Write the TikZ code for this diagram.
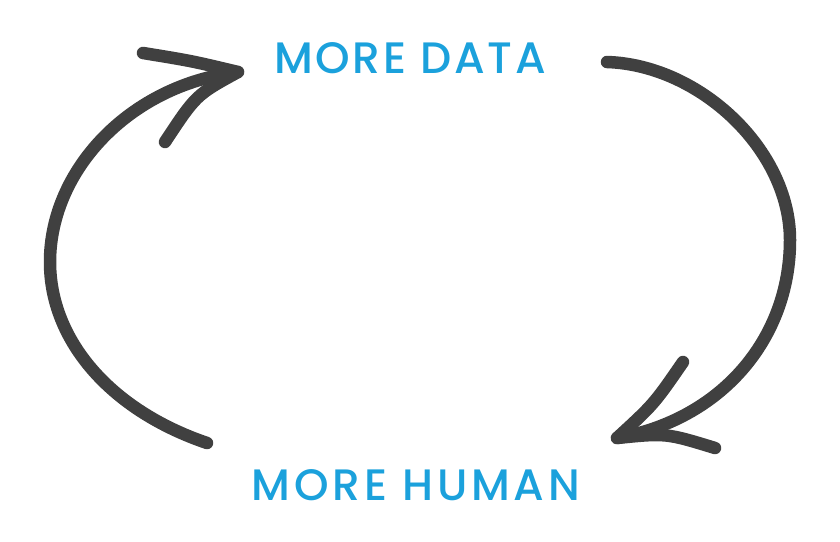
\documentclass[tikz,border=0pt]{standalone}
\usepackage{fontspec}
\setmainfont{Poppins}
\newfontfamily\labelfont{Poppins Medium}[LetterSpace=6]
\newfontfamily\labelfontwide{Poppins Medium}[LetterSpace=8.5]
\definecolor{lblue}{RGB}{27,161,220}
\definecolor{stroke}{RGB}{64,64,64}
\begin{document}
\begin{tikzpicture}[x=1pt,y=-1pt,
  label/.style={text=lblue,inner sep=0pt,font=\labelfont\fontsize{44}{44}\selectfont},
  widelabel/.style={text=lblue,inner sep=0pt,font=\labelfontwide\fontsize{44}{44}\selectfont},
  curvearrow/.style={draw=stroke,line width=12.5pt,line cap=round,line join=round}]
\useasboundingbox[fill=white] (0,0) rectangle (840,541);
\node[label] (data) at (410,58) {MORE DATA};
\node[widelabel] (human) at (416,485) {MORE HUMAN};
% left arrow
\coordinate (ls) at (207,443);
\coordinate (lt) at (238,72);
\coordinate (lb1) at (143,53);
\coordinate (lb2) at (165,142);
\draw[curvearrow] (ls) .. controls (110,410) and (50,340) .. (50,262)
   .. controls (50,170) and (130,85) .. (lt);
\draw[curvearrow] (lb1) .. controls (192,61) .. (lt) .. controls (196,95) .. (lb2);
% right arrow
\coordinate (rs) at (607,62);
\coordinate (rt) at (617,438);
\coordinate (rb1) at (683,362);
\coordinate (rb2) at (715,448);
\draw[curvearrow] (rs) .. controls (700,65) and (790,150) .. (790,240)
   .. controls (790,340) and (720,420) .. (rt);
\draw[curvearrow] (rb1) .. controls (654,404) .. (rt) .. controls (666,433) .. (rb2);
\end{tikzpicture}
\end{document}
